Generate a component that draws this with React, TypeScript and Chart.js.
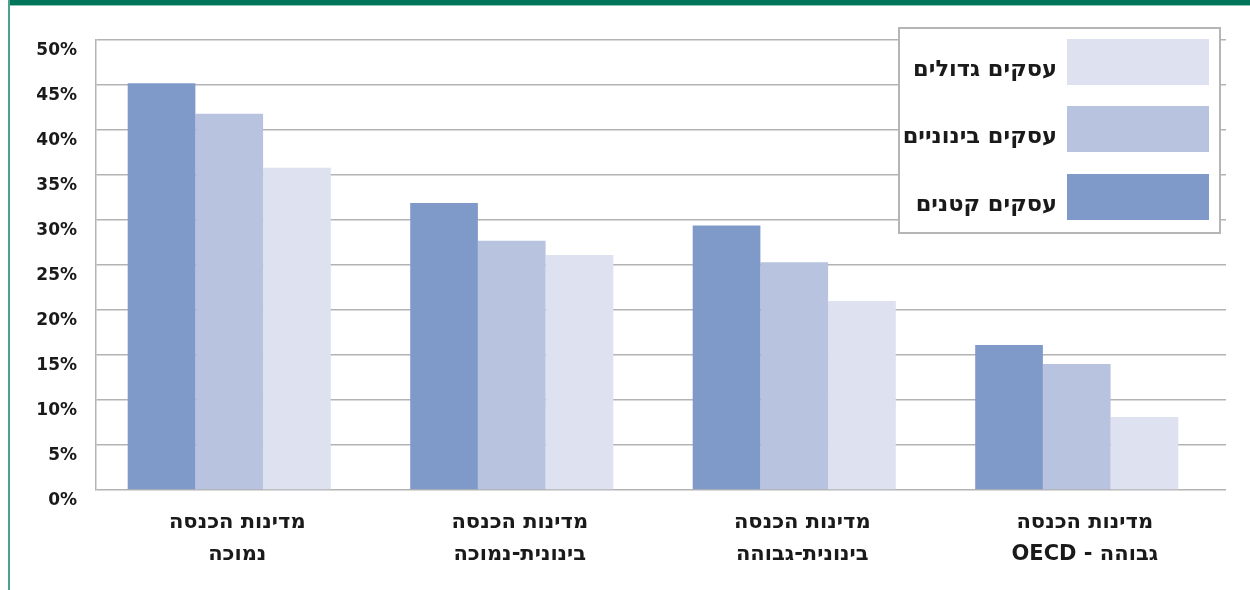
import React, { useEffect, useRef } from "react";
import { Chart, registerables } from "chart.js";

Chart.register(...registerables);

const categories: string[][] = [
  ["מדינות הכנסה", "נמוכה"],
  ["מדינות הכנסה", "בינונית-נמוכה"],
  ["מדינות הכנסה", "בינונית-גבוהה"],
  ["מדינות הכנסה", "גבוהה - OECD"],
];
const seriesNames = ["עסקים קטנים", "עסקים בינוניים", "עסקים גדולים"];
const smallBiz = [45.2, 31.9, 29.4, 16.1];
const mediumBiz = [41.8, 27.7, 25.3, 14.0];
const largeBiz = [35.8, 26.1, 21.0, 8.1];
const yTicks = [0, 5, 10, 15, 20, 25, 30, 35, 40, 45, 50];

const colors = ["#7f9ac9", "#b8c3e0", "#dee1f0"];
const FONT = "'DejaVu Sans', 'Liberation Sans', sans-serif";

const shiftPlugin = {
  id: "shiftBars",
  beforeDatasetsDraw(chart: any) {
    chart.ctx.save();
    chart.ctx.translate(-8, 0);
  },
  afterDatasetsDraw(chart: any) {
    chart.ctx.restore();
  },
};

const legendPlugin = {
  id: "boxLegend",
  afterDraw(chart: any) {
    const ctx = chart.ctx;
    ctx.save();
    const bx = 899, by = 28, bw = 321, bh = 205;
    ctx.fillStyle = "#ffffff";
    ctx.fillRect(bx, by, bw, bh);
    ctx.strokeStyle = "#b5b5b5";
    ctx.lineWidth = 2;
    ctx.strokeRect(bx, by, bw, bh);
    const ds = chart.data.datasets.slice().reverse();
    const tops = [39, 106, 174];
    ds.forEach((d: any, i: number) => {
      ctx.fillStyle = d.backgroundColor;
      ctx.fillRect(1067, tops[i], 142, 46);
      ctx.fillStyle = "#1a1a1a";
      ctx.font = "bold 22.5px " + FONT;
      ctx.textAlign = "right";
      ctx.textBaseline = "alphabetic";
      ctx.fillText(d.label, 1057, tops[i] + 37);
    });
    ctx.restore();
  },
};

export default function App() {
  const ref = useRef<HTMLCanvasElement>(null);
  useEffect(() => {
    if (!ref.current) return;
    const chart = new Chart(ref.current, {
      type: "bar",
      data: {
        labels: categories,
        datasets: [
          { label: seriesNames[0], data: smallBiz, backgroundColor: colors[0] },
          { label: seriesNames[1], data: mediumBiz, backgroundColor: colors[1] },
          { label: seriesNames[2], data: largeBiz, backgroundColor: colors[2] },
        ],
      },
      options: {
        responsive: false,
        animation: false,
        devicePixelRatio: 1,
        layout: { padding: { top: 40, right: 24, left: 0, bottom: 0 } },
        plugins: { legend: { display: false }, tooltip: { enabled: false } },
        datasets: { bar: { categoryPercentage: 0.719, barPercentage: 1, borderWidth: 0 } },
        scales: {
          x: {
            grid: { display: false },
            border: { display: false },
            ticks: {
              color: "#1a1a1a",
              font: { family: FONT, size: 21, weight: "bold", lineHeight: 1.5 },
              padding: 9,
              maxRotation: 0,
              autoSkip: false,
            },
            afterFit: (s: any) => { s.height = 100; },
          },
          y: {
            min: 0,
            max: 50,
            afterBuildTicks: (s: any) => { s.ticks = yTicks.map((v) => ({ value: v })); },
            grid: { color: "#b3b3b3", lineWidth: 1.5, drawTicks: false },
            border: { display: true, color: "#b3b3b3", width: 1.5 },
            ticks: {
              color: "#1a1a1a",
              font: { family: FONT, size: 17, weight: "bold" },
              padding: 19,
              labelOffset: 11,
              callback: (v: any) => v + "%",
            },
            afterFit: (s: any) => { s.width = 96; },
          },
        },
      },
      plugins: [shiftPlugin, legendPlugin],
    });
    return () => chart.destroy();
  }, []);

  return (
    <div style={{ position: "absolute", left: 0, top: 0, width: 1250, height: 590, background: "#ffffff", overflow: "hidden" }}>
      <canvas ref={ref} width={1250} height={590} dir="rtl" style={{ position: "absolute", left: 0, top: 0, width: 1250, height: 590 }} />
      <div style={{ position: "absolute", left: 8, top: 0, width: 1242, height: 5, background: "#00755a" }} />
      <div style={{ position: "absolute", left: 10, top: 5, width: 1240, height: 1, background: "#8cc5b5" }} />
      <div style={{ position: "absolute", left: 8, top: 0, width: 2, height: 590, background: "#4ea18d" }} />
    </div>
  );
}
